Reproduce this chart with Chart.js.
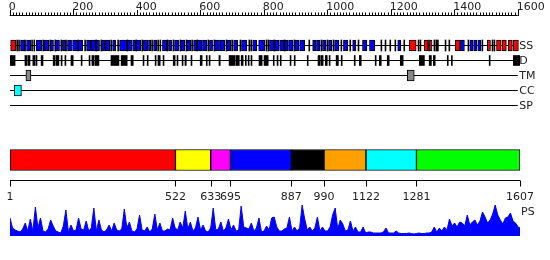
<!DOCTYPE html>
<html>
<head>
<meta charset="utf-8">
<script src="https://cdn.jsdelivr.net/npm/chart.js@4/dist/chart.umd.min.js"></script>
<style>
html, body { margin: 0; padding: 0; background: #fff; }
</style>
</head>
<body>
<canvas id="chart" width="550" height="260"></canvas>
<script>
// protein length and domain boundaries
const seqLength = 1607;
const domainBounds = [1, 522, 633, 695, 887, 990, 1122, 1281, 1607];
const domainColors = ['#ff0000', '#ffff00', '#ff00ff', '#0000ff', '#000000', '#ffa000', '#00ffff', '#00ff00'];

const rowNames = ['SS', 'D', 'TM', 'CC', 'SP'];
const rulerTicks = [0, 200, 400, 600, 800, 1000, 1200, 1400, 1600];

// secondary structure: helices (red), strands (blue), short coils (thin black)
const ssHelix = [[3, 19], [1258, 1280], [1305, 1318], [1323, 1330], [1403, 1418],
    [1504, 1514], [1533, 1548], [1551, 1564], [1570, 1583], [1586, 1602]];
const ssStrand = [[34, 47], [53, 66], [84, 101], [109, 123], [128, 138], [144, 157], [166, 176],
    [182, 195], [198, 214], [216, 230], [242, 255], [257, 271], [273, 283], [289, 299], [301, 315],
    [324, 334], [346, 369], [371, 384], [387, 397], [399, 413], [421, 435], [437, 444], [453, 463],
    [481, 495], [500, 510], [519, 532], [538, 551], [557, 570], [579, 589], [591, 605], [607, 621],
    [629, 639], [645, 661], [663, 677], [683, 696], [705, 718], [730, 747], [765, 778], [784, 803],
    [818, 832], [834, 848], [850, 863], [865, 876], [878, 892], [897, 910], [913, 929], [954, 964],
    [966, 977], [985, 996], [1004, 1014], [1023, 1037], [1051, 1065], [1080, 1090], [1111, 1125],
    [1133, 1150], [1222, 1232], [1419, 1432], [1449, 1459], [1461, 1471], [1474, 1484]];
const ssCoil = [[22, 25], [28, 31], [47, 50], [69, 72], [76, 79], [104, 107], [126, 129], [142, 145],
    [161, 164], [176, 179], [214, 217], [236, 239], [271, 274], [287, 290], [318, 321], [340, 343],
    [369, 372], [397, 400], [416, 419], [447, 450], [466, 469], [473, 476], [495, 498], [514, 517],
    [536, 539], [555, 558], [573, 576], [589, 592], [624, 627], [643, 646], [681, 684], [699, 702],
    [725, 728], [753, 756], [759, 762], [807, 810], [813, 816], [832, 835], [864, 867], [895, 898],
    [942, 945], [980, 983], [999, 1002], [1018, 1021], [1043, 1046], [1071, 1074], [1097, 1100],
    [1169, 1172], [1182, 1185], [1197, 1200], [1213, 1216], [1241, 1244], [1286, 1289], [1292, 1295],
    [1319, 1322], [1336, 1339], [1342, 1350], [1371, 1374], [1383, 1386], [1443, 1446], [1487, 1490],
    [1519, 1522], [1525, 1528]];

// disorder, transmembrane, coiled coil, signal peptide
const disorder = [[1, 17], [48, 55], [58, 64], [73, 80], [83, 86], [99, 105], [137, 143], [146, 155],
    [162, 165], [174, 177], [193, 200], [225, 228], [250, 253], [259, 266], [269, 281], [319, 344],
    [351, 370], [382, 389], [420, 423], [433, 436], [458, 461], [467, 474], [483, 486], [515, 521],
    [527, 530], [543, 546], [552, 556], [571, 574], [600, 606], [619, 622], [628, 631], [659, 663],
    [691, 710], [713, 723], [729, 735], [742, 745], [751, 754], [760, 763], [785, 795], [801, 814],
    [830, 833], [842, 845], [852, 855], [883, 886], [896, 899], [937, 940], [971, 978], [981, 987],
    [994, 1000], [1006, 1009], [1028, 1035], [1044, 1047], [1085, 1088], [1101, 1107], [1151, 1154],
    [1164, 1170], [1189, 1195], [1230, 1239], [1290, 1306], [1321, 1328], [1334, 1340], [1378, 1381],
    [1391, 1394], [1510, 1513], [1586, 1598], [1599, 1607]];
const transmem = [[51, 67], [1252, 1274]];
const coiledCoil = [[14, 37]];
const signalPep = [];

// PS profile, one value every 8 residues from residue 1
const psStep = 8;
const psVal = [18, 8, 6, 5, 4, 7, 13, 5, 17, 5,
    29, 8, 18, 5, 4, 7, 16, 10, 5, 4,
    3, 10, 26, 4, 11, 5, 6, 18, 7, 6,
    15, 5, 8, 28, 5, 16, 6, 4, 6, 11,
    5, 13, 6, 5, 7, 27, 8, 14, 5, 4,
    7, 21, 6, 5, 9, 4, 7, 22, 6, 13,
    5, 5, 7, 6, 18, 8, 6, 14, 8, 25,
    7, 14, 5, 8, 19, 6, 11, 5, 4, 8,
    28, 6, 7, 14, 5, 8, 17, 6, 11, 5,
    6, 30, 9, 8, 7, 13, 5, 8, 18, 4,
    5, 10, 6, 18, 19, 9, 5, 5, 7, 8,
    19, 5, 9, 5, 8, 31, 17, 6, 9, 5,
    8, 19, 5, 9, 5, 5, 9, 21, 28, 7,
    16, 12, 5, 6, 15, 5, 9, 4, 4, 9,
    3, 4, 4, 3, 3, 3, 3, 4, 8, 3,
    3, 3, 5, 3, 2.5, 2.5, 2.5, 3, 2.5, 2,
    2.5, 3, 2.5, 2.5, 3, 3, 4, 9, 4, 8,
    5, 9, 6, 17, 10, 13, 9, 14, 13, 10,
    21, 11, 14, 16, 11, 15, 24, 19, 13, 16,
    22, 31, 21, 16, 12, 18, 19, 23, 15, 13,
    9, 8];

// layout (pixels, vertical)
const rowY = [45.5, 60.5, 75.5, 90.5, 105.5];
const domainY = 160;
const axisY = 180.5;
const psBase = 236;
const H = 260;

function boxes(list, y) {
    return list.map(r => ({ x: [r[0], r[1]], y: y }));
}

function barSet(list, y, fill, border, thick) {
    return {
        type: 'bar',
        indexAxis: 'y',
        grouped: false,
        xAxisID: 'x',
        yAxisID: 'yRow',
        data: boxes(list, y),
        backgroundColor: fill,
        borderColor: '#000',
        borderWidth: border,
        borderSkipped: false,
        barThickness: thick
    };
}

const datasets = [
    barSet(ssCoil, rowY[0], '#000', 0, 11),
    barSet(ssStrand, rowY[0], '#0000ff', 1, 11),
    barSet(ssHelix, rowY[0], '#ff0000', 1, 11),
    barSet(disorder, rowY[1], '#000', 0, 10),
    barSet(transmem, rowY[2], '#888888', 1, 11),
    barSet(coiledCoil, rowY[3], '#00ffff', 1, 11),
    barSet(signalPep, rowY[4], '#ffffff', 1, 11),
    {
        type: 'bar',
        indexAxis: 'y',
        grouped: false,
        xAxisID: 'x',
        yAxisID: 'yRow',
        data: domainColors.map((c, i) => ({ x: [domainBounds[i], domainBounds[i + 1]], y: domainY })),
        backgroundColor: domainColors,
        borderColor: '#000',
        borderWidth: 1,
        borderSkipped: false,
        barThickness: 21
    },
    {
        type: 'line',
        xAxisID: 'x',
        yAxisID: 'yPS',
        data: psVal.map((v, i) => ({ x: Math.min(1 + psStep * i, seqLength), y: v })),
        borderColor: '#0000ff',
        backgroundColor: '#0000ff',
        borderWidth: 1,
        pointRadius: 0,
        tension: 0,
        fill: 'origin'
    }
];

const decor = {
    id: 'decor',
    beforeDatasetsDraw(chart) {
        const { ctx, scales: { x } } = chart;
        ctx.save();
        ctx.strokeStyle = '#000';
        ctx.lineWidth = 1;
        rowY.forEach(y => {
            ctx.beginPath();
            ctx.moveTo(x.getPixelForValue(1), y);
            ctx.lineTo(x.getPixelForValue(1600), y);
            ctx.stroke();
        });
        ctx.restore();
    },
    afterDatasetsDraw(chart) {
        const { ctx, scales: { x } } = chart;
        ctx.save();
        ctx.strokeStyle = '#000';
        ctx.fillStyle = '#222';
        ctx.lineWidth = 1;

        // top ruler
        ctx.beginPath();
        ctx.moveTo(x.getPixelForValue(0), 15.5);
        ctx.lineTo(x.getPixelForValue(1600), 15.5);
        for (let v = 0; v <= 1600; v += 10) {
            const px = Math.round(x.getPixelForValue(v)) + 0.5;
            ctx.moveTo(px, v % 200 === 0 ? 10 : 12.5);
            ctx.lineTo(px, 16);
        }
        ctx.stroke();
        ctx.font = '11px "DejaVu Sans"';
        ctx.textAlign = 'left';
        ctx.textBaseline = 'alphabetic';
        rulerTicks.forEach(v => ctx.fillText(String(v), x.getPixelForValue(v) - 1, 10));

        // row labels
        ctx.textBaseline = 'middle';
        rowNames.forEach((n, i) => ctx.fillText(n, x.getPixelForValue(1600) + 1.5, rowY[i] + 0.5));

        // domain axis
        ctx.beginPath();
        ctx.moveTo(x.getPixelForValue(1), axisY);
        ctx.lineTo(x.getPixelForValue(seqLength), axisY);
        domainBounds.forEach(v => {
            const px = Math.round(x.getPixelForValue(v)) + 0.5;
            ctx.moveTo(px, axisY);
            ctx.lineTo(px, axisY + 6);
        });
        ctx.stroke();
        ctx.textAlign = 'center';
        ctx.textBaseline = 'alphabetic';
        domainBounds.forEach(v => ctx.fillText(String(v), x.getPixelForValue(v), 200));

        ctx.textAlign = 'left';
        ctx.fillText('PS', 521, 215);
        ctx.restore();
    }
};

new Chart(document.getElementById('chart'), {
    type: 'bar',
    data: { datasets: datasets },
    options: {
        responsive: false,
        animation: false,
        devicePixelRatio: 1,
        layout: { padding: { left: 10, right: 30, top: 0, bottom: 0 } },
        scales: {
            x: { type: 'linear', min: 1, max: seqLength, offset: false, display: false },
            yRow: { axis: 'y', type: 'linear', min: 0, max: H, reverse: true, offset: false, display: false },
            yPS: { axis: 'y', type: 'linear', min: psBase - H, max: psBase, offset: false, display: false }
        },
        plugins: {
            legend: { display: false },
            tooltip: { enabled: false }
        }
    },
    plugins: [decor]
});
</script>
</body>
</html>
